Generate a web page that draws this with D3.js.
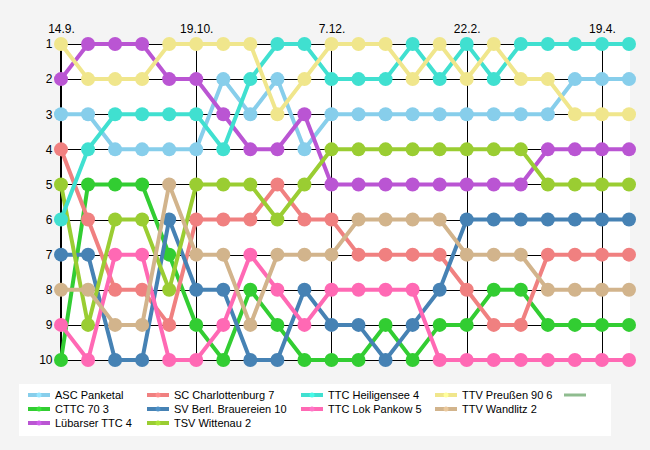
<!DOCTYPE html>
<html>
<head>
<meta charset="utf-8">
<script src="https://cdn.jsdelivr.net/npm/d3@7"></script>
<style>
  body { margin: 0; background: #f4f4f4; }
  svg { display: block; font-family: "Liberation Sans", Arial, sans-serif; }
</style>
</head>
<body>
<svg id="chart" width="650" height="450"></svg>
<script>
// match days, only every fifth one is labelled
var dayLabels = ["14.9.", "19.10.", "7.12.", "22.2.", "19.4."];
var labelDays = [0, 5, 10, 15, 20];
var dayCount = 22;
var ranks = [1, 2, 3, 4, 5, 6, 7, 8, 9, 10];

var teams = ["ASC Panketal", "CTTC 70 3", "Lübarser TTC 4", "SC Charlottenburg 7",
  "SV Berl. Brauereien 10", "TSV Wittenau 2", "TTC Heiligensee 4", "TTC Lok Pankow 5",
  "TTV Preußen 90 6", "TTV Wandlitz 2", ""];
var colors = ["#87CEEB", "#32CD32", "#BA55D3", "#F08080", "#4682B4", "#9ACD32",
  "#40E0D0", "#FF69B4", "#F0E68C", "#D2B48C", "#8FBC8F"];

var ascPanketal     = [3,3,4,4,4,4,2,3,2,4,3,3,3,3,3,3,3,3,3,2,2,2];
var cttc70          = [10,5,5,5,7,9,10,8,9,10,10,10,9,10,9,9,8,8,9,9,9,9];
var luebarser       = [2,1,1,1,2,2,3,4,4,3,5,5,5,5,5,5,5,5,4,4,4,4];
var charlottenburg  = [4,6,8,8,9,6,6,6,5,6,6,7,7,7,7,8,9,9,7,7,7,7];
var brauereien      = [7,7,10,10,6,8,8,10,10,8,9,9,10,9,8,6,6,6,6,6,6,6];
var wittenau        = [5,9,6,6,8,5,5,5,6,5,4,4,4,4,4,4,4,4,5,5,5,5];
var heiligensee     = [6,4,3,3,3,3,4,2,1,1,2,2,2,1,2,1,2,1,1,1,1,1];
var lokPankow       = [9,10,7,7,10,10,9,7,8,9,8,8,8,8,10,10,10,10,10,10,10,10];
var preussen        = [1,2,2,2,1,1,1,1,3,2,1,1,1,2,1,2,1,2,2,3,3,3];
var wandlitz        = [8,8,9,9,5,7,7,9,7,7,7,6,6,6,6,7,7,7,8,8,8,8];
var emptySeries     = [];

var seriesValues = [ascPanketal, cttc70, luebarser, charlottenburg, brauereien,
  wittenau, heiligensee, lokPankow, preussen, wandlitz, emptySeries];

var svg = d3.select("#chart");
var plotLeft = 60, plotRight = 630, plotTop = 44, plotBottom = 360;

var x = d3.scaleLinear().domain([0, dayCount - 1]).range([61, 629]);
var y = d3.scaleLinear().domain([1, 10]).range([plotTop, plotBottom]);

svg.append("rect")
  .attr("x", plotLeft).attr("y", plotTop)
  .attr("width", plotRight - plotLeft).attr("height", plotBottom - plotTop)
  .attr("fill", "#fff");

// grid
svg.append("g").selectAll("line")
  .data(ranks)
  .enter().append("line")
  .attr("x1", plotLeft).attr("x2", plotRight)
  .attr("y1", function(d) { return Math.round(y(d)) + 0.5; })
  .attr("y2", function(d) { return Math.round(y(d)) + 0.5; })
  .attr("stroke", "#000");

svg.append("g").selectAll("line")
  .data(labelDays)
  .enter().append("line")
  .attr("x1", function(d) { return Math.round(x(d)) + 0.5; })
  .attr("x2", function(d) { return Math.round(x(d)) + 0.5; })
  .attr("y1", plotTop).attr("y2", plotBottom)
  .attr("stroke", "#000");

var xAxis = d3.axisTop(x).tickValues(labelDays).tickSize(6).tickPadding(6)
  .tickFormat(function(d, i) { return dayLabels[i]; });
var yAxis = d3.axisLeft(y).tickValues(ranks).tickSize(5).tickPadding(3)
  .tickFormat(d3.format("d"));

svg.append("g")
  .attr("transform", "translate(0," + (plotTop + 0.5) + ")")
  .call(xAxis)
  .call(function(g) { g.select(".domain").remove(); });

svg.append("g")
  .attr("transform", "translate(" + (plotLeft + 0.5) + ",0)")
  .call(yAxis)
  .call(function(g) { g.select(".domain").attr("d", "M0," + plotTop + "V" + plotBottom); });

svg.selectAll(".tick text").attr("font-size", 12).attr("fill", "#000")
  .attr("font-family", "'Liberation Sans', Arial, sans-serif");
svg.selectAll(".tick line, .domain").attr("stroke", "#000");

// series
var line = d3.line()
  .x(function(d, i) { return x(i); })
  .y(function(d) { return y(d); });

seriesValues.forEach(function(vals, s) {
  if (!vals.length) return;
  var g = svg.append("g");
  g.append("path")
    .datum(vals)
    .attr("d", line)
    .attr("fill", "none")
    .attr("stroke", colors[s])
    .attr("stroke-width", 4);
  g.selectAll("circle")
    .data(vals)
    .enter().append("circle")
    .attr("cx", function(d, i) { return x(i); })
    .attr("cy", function(d) { return y(d); })
    .attr("r", 7)
    .attr("fill", colors[s]);
});

// legend
svg.append("rect")
  .attr("x", 19).attr("y", 384).attr("width", 592).attr("height", 52)
  .attr("fill", "#fff");

var legendCols = [[0, 1, 2], [3, 4, 5], [6, 7], [8, 9], [10]];
var colX = [28, 147, 301, 435, 564];
var rowY = [395, 409, 423];
var legendPos = [];
legendCols.forEach(function(col, c) {
  col.forEach(function(idx, r) { legendPos[idx] = [colX[c], rowY[r]]; });
});

var legend = svg.append("g").selectAll("g")
  .data(teams)
  .enter().append("g")
  .attr("transform", function(d, i) {
    return "translate(" + legendPos[i][0] + "," + legendPos[i][1] + ")";
  });

legend.append("line")
  .attr("x1", 0).attr("x2", 22)
  .attr("stroke", function(d, i) { return colors[i]; })
  .attr("stroke-width", function(d) { return d ? 4 : 3; });

legend.filter(function(d) { return d; }).append("circle")
  .attr("cx", 11).attr("r", 2.5)
  .attr("fill", function(d) { return d3.color(colors[teams.indexOf(d)]).brighter(0.3); });

legend.append("text")
  .attr("x", 27).attr("dy", "0.35em")
  .attr("font-size", 11)
  .attr("fill", "#000")
  .text(function(d) { return d; });
</script>
</body>
</html>
